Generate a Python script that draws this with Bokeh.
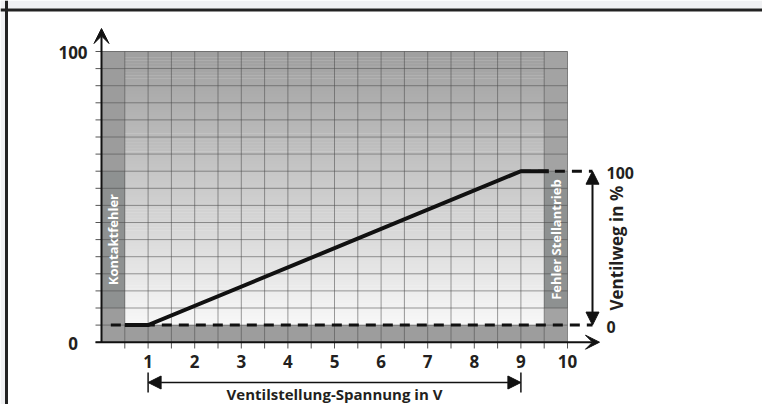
import numpy as np
from bokeh.plotting import figure
from bokeh.models import Range1d, Arrow, NormalHead, VeeHead, Span
from bokeh.core.properties import value
from bokeh.embed import file_html
from bokeh.resources import INLINE

# ---------------- data ----------------
voltage_ticks = [1, 2, 3, 4, 5, 6, 7, 8, 9, 10]
voltage_tick_labels = ["1", "2", "3", "4", "5", "6", "7", "8", "9", "10"]
left_ticks = [0, 100]
left_tick_labels = ["0", "100"]
valve_ticks = [0, 100]
valve_tick_labels = ["0", "100"]

curve_voltage = [0.5, 1, 9, 9.6]
curve_valve = [0, 0, 100, 100]

ref_valve = [0, 100]            # dashed reference levels
ref_start_voltage = [0.2, 9.0]  # where each dashed line starts

voltage_span = [1, 9]
valve_span = [0, 100]

error_labels = ["Kontaktfehler", "Fehler Stellantrieb"]
error_left = [0.0, 9.5]
error_right = [0.5, 10.0]
error_box_valve = [100 / 9, 100]   # label boxes span (valve %)

x_title = "Ventilstellung-Spannung in V"
y_title = "Ventilweg in %"

# ---------------- geometry / style ----------------
W, H = 762, 404
PX0, PY0 = 0, 0
X_ORIGIN, X_SCALE = 101.0, 46.6       # px of voltage 0, px per V
Y_ORIGIN, Y_TOP = 341.7, 51.0         # px of left 0 and left 100
Y_SCALE = (Y_ORIGIN - Y_TOP) / 100.0
N_ROWS = 17
ROW = 100.0 / N_ROWS                   # one grid row in left-axis units
V_PER_LEFT = 100.0 / (9 * ROW)         # valve % per left-axis unit


def dx(px):
    return (px - X_ORIGIN) / X_SCALE


def dy(py):
    return (Y_ORIGIN - py) / Y_SCALE


def to_valve(left):
    return (left - ROW) * V_PER_LEFT


FONT = value("Open Sans")
DARK = "#231f20"
INK = "#111111"

p = figure(width=W, height=H, output_backend="svg", toolbar_location=None,
           x_axis_type=None, y_axis_type=None, min_border=0,
           x_range=Range1d(dx(PX0), dx(PX0 + W)),
           y_range=Range1d(dy(PY0 + H), dy(PY0)))
p.extra_y_ranges = {"valve": Range1d(to_valve(dy(PY0 + H)), to_valve(dy(PY0)))}
p.outline_line_color = None
p.background_fill_color = "white"
p.border_fill_color = "white"

# page surround (light grey) above and left of the frame box
p.quad(left=dx(0), right=dx(W), bottom=dy(8), top=dy(0), fill_color="#f0f1f3", line_color=None)
p.quad(left=dx(0), right=dx(5), bottom=dy(H), top=dy(0), fill_color="#f0f1f3", line_color=None)

# gradient background (rows 1..17)
n = 90
edges = np.linspace(ROW, 100, n + 1)
shade = np.linspace(247, 160, n).astype(int)
cols = ["#%02x%02x%02x" % (s, s, s) for s in shade]
p.quad(left=0, right=10, bottom=edges[:-1], top=edges[1:] + 0.15,
       fill_color=cols, line_color=None)

# bottom band (row 0..1)
p.quad(left=0, right=10, bottom=0, top=ROW, fill_color="#9d9d9d", line_color=None)

# error strips
p.quad(left=error_left, right=error_right, bottom=ROW, top=100,
       fill_color=["#9c9c9c", "#a3a3a3"], line_color=None)
p.quad(left=error_left, right=error_right, bottom=error_box_valve[0], top=error_box_valve[1],
       y_range_name="valve", fill_color="#8e9191", line_color=None)

# grid lines
vx = np.arange(0.5, 10.01, 0.5)
p.segment(x0=vx, y0=0, x1=vx, y1=100, line_color="#4a4a4a", line_alpha=0.55, line_width=1)
hy = np.arange(1, N_ROWS + 1) * ROW
p.segment(x0=0, y0=hy, x1=10, y1=hy, line_color="#4a4a4a", line_alpha=0.55, line_width=1)

# axis tick marks
p.segment(x0=vx, y0=0, x1=vx, y1=dy(348), line_color="#555555", line_width=1)
ly = np.arange(0, N_ROWS + 1) * ROW
p.segment(x0=dx(95), y0=ly, x1=0, y1=ly, line_color="#555555", line_width=1)

# axes with arrows
p.add_layout(Arrow(x_start=0, y_start=0, x_end=0, y_end=dy(28),
                   line_width=2, line_color=INK,
                   end=VeeHead(size=15, fill_color=INK, line_color=INK)))
p.add_layout(Arrow(x_start=dx(95), y_start=0, x_end=dx(599), y_end=0,
                   line_width=2, line_color=INK,
                   end=VeeHead(size=14, fill_color=INK, line_color=INK)))

# dashed reference lines
arrow_x = dx(592)
for v, s in zip(ref_valve, ref_start_voltage):
    p.line([s, arrow_x], [v, v], y_range_name="valve", line_width=3,
           line_color=INK, line_dash="10 7")

# characteristic curve
p.line(curve_voltage, curve_valve, y_range_name="valve", line_width=4,
       line_color=INK, line_join="miter")

# valve double arrow
p.add_layout(Arrow(x_start=arrow_x, y_start=valve_span[0], x_end=arrow_x, y_end=valve_span[1],
                   y_range_name="valve", line_width=2, line_color=INK,
                   start=NormalHead(size=13, fill_color=INK, line_color=INK),
                   end=NormalHead(size=13, fill_color=INK, line_color=INK)))

# voltage double arrow
ay = dy(382)
p.add_layout(Arrow(x_start=voltage_span[0], y_start=ay, x_end=voltage_span[1], y_end=ay,
                   line_width=1.5, line_color=INK,
                   start=NormalHead(size=13, fill_color=INK, line_color=INK),
                   end=NormalHead(size=13, fill_color=INK, line_color=INK)))
p.segment(x0=voltage_span, y0=dy(372), x1=voltage_span, y1=dy(392),
          line_color=INK, line_width=1.5)

# tick labels
p.text(x=voltage_ticks, y=dy(361), text=voltage_tick_labels, text_align="center",
       text_baseline="middle", text_font=FONT, text_font_style="bold",
       text_font_size="17px", text_color=DARK)
p.text(x=dx(72.5), y=left_ticks, text=left_tick_labels, text_align="center",
       text_baseline="middle", text_font=FONT, text_font_style="bold",
       text_font_size="17px", text_color=DARK, y_offset=1)
p.text(x=dx(606), y=valve_ticks, text=valve_tick_labels, y_range_name="valve",
       text_align="left", text_baseline="middle", text_font=FONT,
       text_font_style="bold", text_font_size="16px", text_color=DARK, y_offset=2)

# titles
p.text(x=[sum(voltage_span) / 2], y=dy(393), text=[x_title], text_align="center",
       text_baseline="middle", text_font=FONT, text_font_style="bold",
       text_font_size="15px", text_color=DARK)
p.text(x=dx(616), y=[50], text=[y_title], y_range_name="valve", angle=np.pi / 2,
       text_align="center", text_baseline="middle", text_font=FONT,
       text_font_style="bold", text_font_size="17px", text_color=DARK)

# error zone labels
p.text(x=[(a + b) / 2 for a, b in zip(error_left, error_right)],
       y=sum(error_box_valve) / 2, text=error_labels, y_range_name="valve",
       angle=np.pi / 2, text_align="center", text_baseline="middle",
       text_font=FONT, text_font_style="bold", text_font_size="13px", text_color="white")

# outer frame (top + left)
p.add_layout(Span(location=dy(9.5), dimension="width", line_color="#222222", line_width=3))
p.add_layout(Span(location=dx(6), dimension="height", line_color="#222222", line_width=3))

open("out.html", "w").write(file_html(p, INLINE))
